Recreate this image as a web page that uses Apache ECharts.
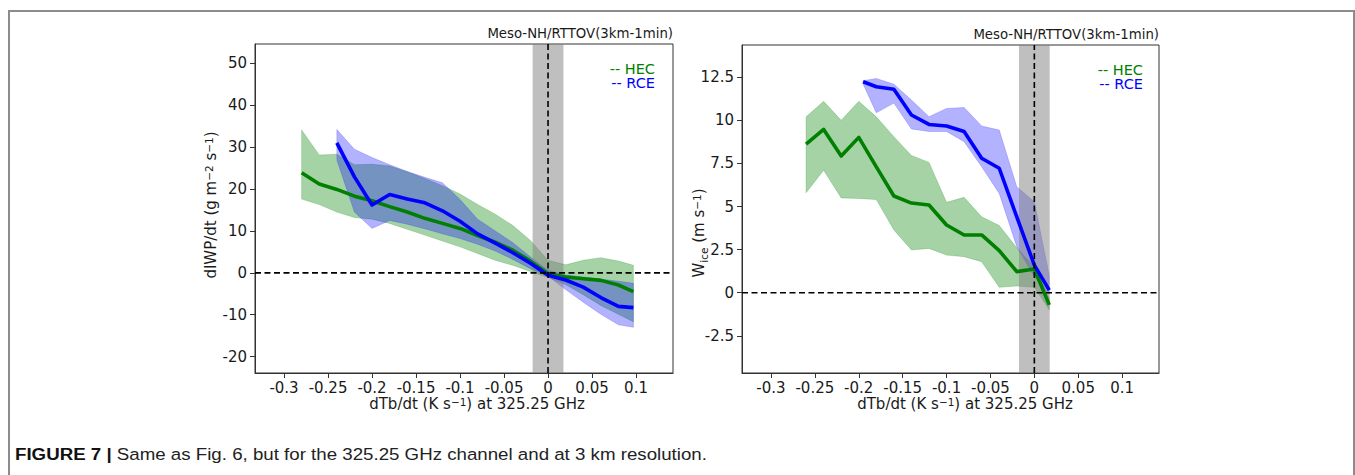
<!DOCTYPE html>
<html><head><meta charset="utf-8">
<script src="https://cdn.jsdelivr.net/npm/echarts@6/dist/echarts.min.js"></script>
<style>html,body{margin:0;padding:0;background:#fff}#c{width:1355px;height:475px}</style>
</head><body><div id="c"></div>
<script>
// ---------- tick labels ----------
const xTicks = [-0.3, -0.25, -0.2, -0.15, -0.1, -0.05, 0, 0.05, 0.1];
const yTicksL = [-20, -10, 0, 10, 20, 30, 40, 50];
const yTicksR = [-2.5, 0, 2.5, 5, 7.5, 10, 12.5];
const bandX = [-0.0175, 0.0175];

// ---------- left panel: dIWP/dt ----------
const xL_HEC = [-0.28,-0.26,-0.24,-0.22,-0.20,-0.18,-0.16,-0.14,-0.12,-0.10,-0.08,-0.06,-0.04,-0.02,0.00,0.02,0.04,0.06,0.08,0.097];
const mL_HEC = [23.9,21.2,19.9,18.3,17.2,15.8,14.5,13.0,11.8,10.6,8.9,7.3,5.4,2.8,-0.2,-1.0,-1.4,-1.8,-2.9,-4.5];
const uL_HEC = [34.1,28.1,28.3,25.8,25.9,25.5,24.1,22.5,20.8,18.8,16.3,14.0,11.3,7.7,3.0,1.9,3.0,3.6,2.8,1.8];
const lL_HEC = [17.6,16.3,14.5,13.2,12.8,11.8,10.4,9.0,7.6,6.2,4.6,3.0,1.8,0.3,-1.1,-2.8,-5.2,-7.8,-9.9,-11.7];

const xL_RCE = [-0.24,-0.22,-0.20,-0.18,-0.16,-0.14,-0.12,-0.10,-0.08,-0.06,-0.04,-0.02,0.00,0.02,0.04,0.06,0.08,0.097];
const mL_RCE = [31.0,22.9,16.2,18.7,17.6,16.7,14.8,12.3,9.3,7.1,4.8,2.3,-0.6,-1.7,-3.4,-5.9,-8.0,-8.3];
const uL_RCE = [34.2,29.5,27.5,25.8,24.2,22.8,21.5,17.5,12.8,10.0,7.2,3.8,0.6,-0.5,-1.0,-1.5,-2.0,-2.5];
const lL_RCE = [26.9,14.5,10.6,12.5,11.6,10.5,9.3,8.2,6.8,5.2,3.2,1.0,-0.8,-4.0,-7.0,-9.9,-12.4,-13.0];

// ---------- right panel: W_ice ----------
const xR_HEC = [-0.26,-0.24,-0.22,-0.20,-0.18,-0.16,-0.14,-0.12,-0.10,-0.08,-0.06,-0.04,-0.02,0.00,0.017];
const mR_HEC = [8.62,9.47,7.93,9.01,7.3,5.61,5.2,5.09,3.93,3.35,3.35,2.44,1.22,1.37,-0.71];
const uR_HEC = [10.2,11.1,10.0,11.1,10.2,9.05,7.96,7.56,5.24,5.53,4.4,3.9,2.6,1.5,-0.3];
const lR_HEC = [5.8,7.1,5.5,5.47,5.4,3.64,2.48,2.57,2.18,2.09,1.8,0.31,0.39,0.31,-1.0];

const xR_RCE = [-0.195,-0.18,-0.16,-0.14,-0.12,-0.10,-0.08,-0.06,-0.04,-0.02,0.00,0.017];
const mR_RCE = [12.24,11.95,11.8,10.31,9.76,9.67,9.35,7.8,7.22,4.4,1.6,0.15];
const uR_RCE = [12.3,12.43,12.1,11.18,10.21,10.69,10.75,9.67,9.44,6.15,5.28,1.0];
const lR_RCE = [12.1,10.44,11.0,9.5,9.35,9.35,8.76,7.3,5.76,2.67,0.93,-0.1];

// ---------- styling ----------
const FONT = 'DejaVu Sans';
const GREEN = '#008000', BLUE = '#0000ff';
const GREEN_FILL = 'rgba(0,128,0,0.35)', BLUE_FILL = 'rgba(0,0,255,0.30)';
const BAND_FILL = 'rgba(128,128,128,0.5)';
const TXT = '#1a1a1a';

function zip(xs, ys) { return xs.map((x, i) => [x, ys[i]]); }

function bandPoly(gi, xs, lo, hi, color, z) {
  return {
    type: 'custom', xAxisIndex: gi, yAxisIndex: gi, clip: true, silent: true, z: z,
    data: [[xs[0], lo[0]]],
    renderItem: function (params, api) {
      const pts = [];
      for (let i = 0; i < xs.length; i++) pts.push(api.coord([xs[i], hi[i]]));
      for (let i = xs.length - 1; i >= 0; i--) pts.push(api.coord([xs[i], lo[i]]));
      return { type: 'polygon', shape: { points: pts }, style: { fill: color, stroke: color, lineWidth: 0.6 } };
    }
  };
}
function vband(gi, ylo, yhi) {
  return {
    type: 'custom', xAxisIndex: gi, yAxisIndex: gi, clip: true, silent: true, z: 2,
    data: [[bandX[0], 0]],
    renderItem: function (params, api) {
      const a = api.coord([bandX[0], yhi]), b = api.coord([bandX[1], ylo]);
      return { type: 'rect', shape: { x: a[0], y: a[1], width: b[0] - a[0], height: b[1] - a[1] }, style: { fill: BAND_FILL } };
    }
  };
}
function zeroLines(gi, xmin, xmax, ymin, ymax) {
  return {
    type: 'custom', xAxisIndex: gi, yAxisIndex: gi, clip: true, silent: true, z: 5,
    data: [[0, 0]],
    renderItem: function (params, api) {
      const h0 = api.coord([xmin, 0]), h1 = api.coord([xmax, 0]);
      const v0 = api.coord([0, ymin]), v1 = api.coord([0, ymax]);
      const st = { stroke: '#000', lineWidth: 1.6, lineDash: [6, 3.5], fill: null };
      return { type: 'group', children: [
        { type: 'line', shape: { x1: h0[0], y1: h0[1], x2: h1[0], y2: h1[1] }, style: st },
        { type: 'line', shape: { x1: v0[0], y1: v0[1], x2: v1[0], y2: v1[1] }, style: st }
      ] };
    }
  };
}
function line(gi, xs, ys, color) {
  return { type: 'line', xAxisIndex: gi, yAxisIndex: gi, data: zip(xs, ys), showSymbol: false, symbol: 'none',
    lineStyle: { color: color, width: 3.6, join: 'round' }, z: 4, silent: true, animation: false };
}

const XR = [-0.333, 0.142];
const YL = [-23.9, 54.6];
const YR = [-4.66, 14.37];

function xAxis(gi) {
  return { type: 'value', gridIndex: gi, min: XR[0], max: XR[1],
    axisLine: { show: true, onZero: false, lineStyle: { color: '#333', width: 1 } },
    axisTick: { show: true, customValues: xTicks, length: 5, lineStyle: { color: '#333' } },
    axisLabel: { customValues: xTicks, margin: 7, fontSize: 15, fontFamily: FONT, color: TXT,
      formatter: v => String(Math.round(v * 100) / 100) },
    splitLine: { show: false } };
}
function yAxis(gi, r, ticks) {
  return { type: 'value', gridIndex: gi, min: r[0], max: r[1],
    axisLine: { show: true, onZero: false, lineStyle: { color: '#333', width: 1 } },
    axisTick: { show: true, customValues: ticks, length: 5, lineStyle: { color: '#333' } },
    axisLabel: { customValues: ticks, margin: 8, fontSize: 15, fontFamily: FONT, color: TXT,
      formatter: v => String(Math.round(v * 100) / 100) },
    splitLine: { show: false } };
}

function txt(x, y, text, opts) {
  const st = Object.assign({ text: text, fontSize: 15, fontFamily: FONT, fill: TXT, textFill: TXT,
    align: 'center', textAlign: 'center', verticalAlign: 'middle', textVerticalAlign: 'middle' }, opts || {});
  if (st.align) st.textAlign = st.align;
  if (st.verticalAlign) st.textVerticalAlign = st.verticalAlign;
  if (st.fill) st.textFill = st.fill;
  const sx = (opts && opts._sx) || 1;
  return { type: 'text', x: x, y: y, z: 100, scaleX: sx, rotation: (opts && opts._rot) || 0, style: st };
}
const rich = {
  n: { fontSize: 15, fontFamily: FONT, fill: TXT, textFill: TXT, lineHeight: 18, verticalAlign: 'top', textVerticalAlign: 'top' },
  p: { fontSize: 10.5, fontFamily: FONT, fill: TXT, textFill: TXT, lineHeight: 8, verticalAlign: 'top', textVerticalAlign: 'top' },
  b: { fontSize: 10.5, fontFamily: FONT, fill: TXT, textFill: TXT, lineHeight: 6, verticalAlign: 'bottom', textVerticalAlign: 'bottom' }
};
const LEG = { fontSize: 14.5, lineHeight: 13, align: 'right' };

const chart = echarts.init(document.getElementById('c'), null, { renderer: 'svg' });
chart.setOption({
  animation: false,
  backgroundColor: '#fff',
  grid: [
    { left: 255, top: 44, width: 418, height: 329, show: true, borderColor: '#333', borderWidth: 1, backgroundColor: 'transparent' },
    { left: 742, top: 45, width: 417, height: 328, show: true, borderColor: '#333', borderWidth: 1, backgroundColor: 'transparent' }
  ],
  xAxis: [xAxis(0), xAxis(1)],
  yAxis: [yAxis(0, YL, yTicksL), yAxis(1, YR, yTicksR)],
  series: [
    bandPoly(0, xL_HEC, lL_HEC, uL_HEC, GREEN_FILL, 1),
    bandPoly(0, xL_RCE, lL_RCE, uL_RCE, BLUE_FILL, 1),
    vband(0, YL[0], YL[1]),
    line(0, xL_HEC, mL_HEC, GREEN),
    line(0, xL_RCE, mL_RCE, BLUE),
    zeroLines(0, XR[0], XR[1], YL[0], YL[1]),
    bandPoly(1, xR_HEC, lR_HEC, uR_HEC, GREEN_FILL, 1),
    bandPoly(1, xR_RCE, lR_RCE, uR_RCE, BLUE_FILL, 1),
    vband(1, YR[0], YR[1]),
    line(1, xR_HEC, mR_HEC, GREEN),
    line(1, xR_RCE, mR_RCE, BLUE),
    zeroLines(1, XR[0], XR[1], YR[0], YR[1])
  ],
  graphic: [
    { type: 'polyline', z: 100, shape: { points: [[9, 476], [9, 11], [1354, 11], [1354, 476]] }, style: { stroke: '#8c8c8c', lineWidth: 2, fill: null } },
    // titles
    txt(673, 33, 'Meso-NH/RTTOV(3km-1min)', { fontSize: 13.3, align: 'right' }),
    txt(1159, 34, 'Meso-NH/RTTOV(3km-1min)', { fontSize: 13.3, align: 'right' }),
    // legends
    txt(655, 69, '-- HEC', Object.assign({ fill: GREEN }, LEG)),
    txt(655, 83, '-- RCE', Object.assign({ fill: BLUE }, LEG)),
    txt(1143, 70, '-- HEC', Object.assign({ fill: GREEN }, LEG)),
    txt(1143, 84, '-- RCE', Object.assign({ fill: BLUE }, LEG)),
    // x labels
    txt(477, 405, '{n|dTb/dt (K s}{p|\u22121}{n|) at 325.25 GHz}', { rich: rich }),
    txt(965, 405, '{n|dTb/dt (K s}{p|\u22121}{n|) at 325.25 GHz}', { rich: rich }),
    // y labels
    txt(212, 205, '{n|dIWP/dt (g m}{p|\u22122}{n| s}{p|\u22121}{n|)}', { rich: rich, _rot: Math.PI / 2 }),
    txt(700, 233, '{n|W}{b|ice}{n| (m s}{p|\u22121}{n|)}', { rich: rich, _rot: Math.PI / 2 }),
    // caption
    txt(15, 454, '{k|FIGURE 7 |}{c| Same as Fig. 6, but for the 325.25 GHz channel and at 3 km resolution.}', {
      align: 'left', _sx: 1.1, rich: {
        k: { fontSize: 17, fontFamily: 'Liberation Sans', fontWeight: 'bold', fill: '#111', textFill: '#111' },
        c: { fontSize: 17, fontFamily: 'Liberation Sans', fill: '#222', textFill: '#222' }
      } })
  ]
});
</script>
</body></html>
